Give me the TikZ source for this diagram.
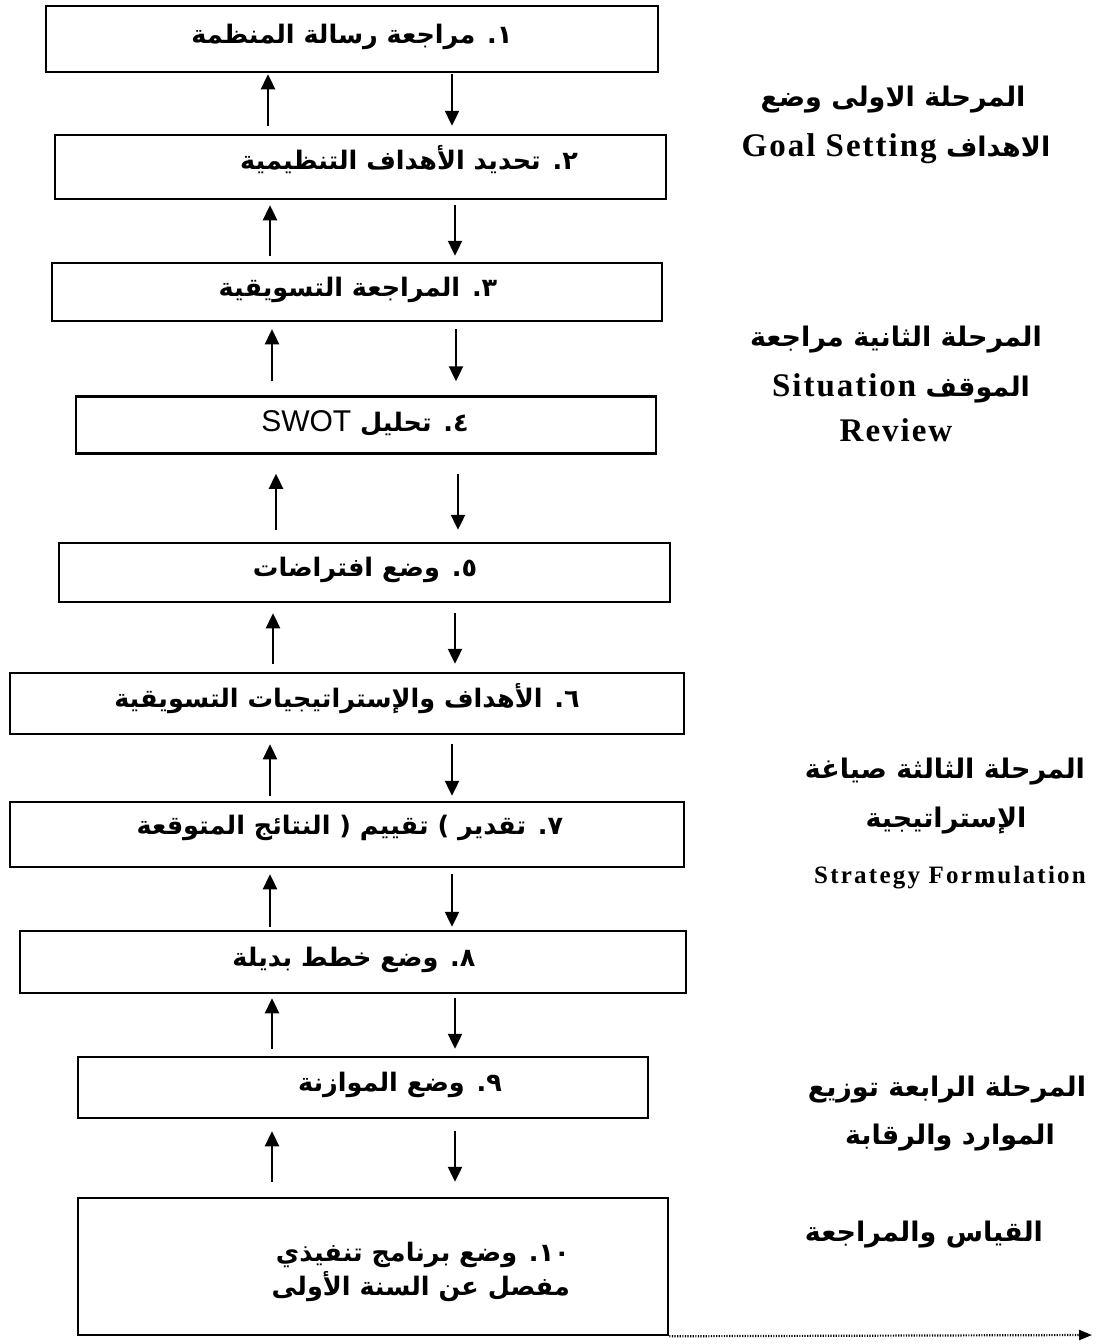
\documentclass[tikz,border=0pt]{standalone}
\usepackage{fontspec}
\setmainfont{Liberation Serif}
\newfontfamily\arabicfont[Script=Arabic]{DejaVu Sans}
\newfontfamily\swotfont{Liberation Sans}
\newfontfamily\engA[LetterSpace=6]{Liberation Serif}
\newfontfamily\engB[LetterSpace=9]{Liberation Serif}
\TeXXeTstate=1
\usetikzlibrary{arrows.meta}
\begin{document}
\begin{tikzpicture}[x=1pt,y=-1pt,
  box/.style={draw, line width=2.5pt, inner sep=0pt},
  boxtext/.style={font=\arabicfont\bfseries\fontsize{25.5}{30}\selectfont, inner sep=0pt},
  phase/.style={font=\arabicfont\bfseries\fontsize{27}{32}\selectfont, inner sep=0pt},
  eng/.style={font=\engA\bfseries\fontsize{33}{38}\selectfont, inner sep=0pt},
  engsmall/.style={font=\engB\bfseries\fontsize{25}{30}\selectfont, inner sep=0pt},
  arr/.style={line width=2.4pt, -{Triangle[length=15pt,width=14pt]}},
  dotarr/.style={line width=2.2pt, dash pattern=on 1.2pt off 1.4pt, -{Triangle[length=13pt,width=10pt]}},
]
\useasboundingbox (0,0) rectangle (1099,1344);

% boxes
\node[box, minimum width=612pt, minimum height=66pt]  (b1)  at (352,39) {};
\node[box, minimum width=611pt, minimum height=64pt]  (b2)  at (360.5,167) {};
\node[box, minimum width=610pt, minimum height=58pt]  (b3)  at (357,292) {};
\node[box, minimum width=580pt, minimum height=57pt]  (b4)  at (366,425) {};
\node[box, minimum width=611pt, minimum height=59pt]  (b5)  at (364.5,572.5) {};
\node[box, minimum width=674pt, minimum height=61pt]  (b6)  at (347,703.5) {};
\node[box, minimum width=674pt, minimum height=65pt]  (b7)  at (347,834.5) {};
\node[box, minimum width=666pt, minimum height=62pt]  (b8)  at (353,962) {};
\node[box, minimum width=570pt, minimum height=61pt]  (b9)  at (363,1087.5) {};
\node[box, minimum width=590pt, minimum height=137pt] (b10) at (373,1266.5) {};

% box texts
\node[boxtext] (t1) at (352,37) {\beginR ١\kern0pt. مراجعة رسالة المنظمة\endR};
\node[boxtext] (t2) at (409,160) {\beginR ٢\kern0pt. تحديد الأهداف التنظيمية\endR};
\node[boxtext] (t3) at (358,290) {\beginR ٣\kern0pt. المراجعة التسويقية\endR};
\node[boxtext] (t4) at (365,423) {\beginR ٤\kern0pt. تحليل {\swotfont\mdseries\fontsize{30}{34}\selectfont SWOT}\endR};
\node[boxtext] (t5) at (365,570) {\beginR ٥\kern0pt. وضع افتراضات\endR};
\node[boxtext] (t6) at (347,699) {\beginR ٦\kern0pt. الأهداف والإستراتيجيات التسويقية\endR};
\node[boxtext] (t7) at (350,828) {\beginR ٧\kern0pt. تقدير ) تقييم ( النتائج المتوقعة\endR};
\node[boxtext] (t8) at (354,960) {\beginR ٨\kern0pt. وضع خطط بديلة\endR};
\node[boxtext] (t9) at (400,1085) {\beginR ٩\kern0pt. وضع الموازنة\endR};
\node[boxtext, anchor=east] (t10a) at (570,1255) {\beginR ١٠\kern0pt. وضع برنامج تنفيذي\endR};
\node[boxtext, anchor=east] (t10b) at (570,1287) {\beginR مفصل عن السنة الأولى\endR};

% phase labels
\node[phase] (p1a) at (893,100) {\beginR المرحلة الاولى وضع\endR};
\node[phase] (p1b) at (896,149) {\beginR الاهداف {\engA\bfseries\fontsize{33}{38}\selectfont\beginL Goal Setting\endL}\endR};
\node[phase] (p2a) at (896,340) {\beginR المرحلة الثانية مراجعة\endR};
\node[phase] (p2b) at (901,388) {\beginR الموقف {\engA\bfseries\fontsize{33}{38}\selectfont Situation}\endR};
\node[eng]   (p2c) at (896,430) {Review};
\node[phase] (p3a) at (945,772) {\beginR المرحلة الثالثة صياغة\endR};
\node[phase] (p3b) at (946,821) {\beginR الإستراتيجية\endR};
\node[engsmall] (p3c) at (950,878) {Strategy Formulation};
\node[phase] (p4a) at (947,1090) {\beginR المرحلة الرابعة توزيع\endR};
\node[phase] (p4b) at (950,1138) {\beginR الموارد والرقابة\endR};
\node[phase] (p5)  at (924,1235) {\beginR القياس والمراجعة\endR};

% arrow columns
\coordinate (u1) at (268,0); \coordinate (d1) at (452,0);
\coordinate (u2) at (270,0); \coordinate (d2) at (455,0);
\coordinate (u3) at (272,0); \coordinate (d3) at (456,0);
\coordinate (u4) at (276,0); \coordinate (d4) at (458,0);
\coordinate (u5) at (273,0); \coordinate (d5) at (455,0);
\coordinate (u6) at (270,0); \coordinate (d6) at (452,0);
\coordinate (u7) at (270,0); \coordinate (d7) at (452,0);
\coordinate (u8) at (272,0); \coordinate (d8) at (455,0);
\coordinate (u9) at (272,0); \coordinate (d9) at (455,0);

% up arrows (lower box -> upper box) and down arrows (upper box -> lower box)
\draw[arr, shorten <=8pt,  shorten >=1pt]  (b2.north -| u1) -- (b1.south -| u1);
\draw[arr, shorten <=1pt,  shorten >=8pt]  (b1.south -| d1) -- (b2.north -| d1);
\draw[arr, shorten <=6pt,  shorten >=5pt]  (b3.north -| u2) -- (b2.south -| u2);
\draw[arr, shorten <=5pt,  shorten >=6pt]  (b2.south -| d2) -- (b3.north -| d2);
\draw[arr, shorten <=14pt, shorten >=7pt]  (b4.north -| u3) -- (b3.south -| u3);
\draw[arr, shorten <=7pt,  shorten >=14pt] (b3.south -| d3) -- (b4.north -| d3);
\draw[arr, shorten <=12pt, shorten >=19pt] (b5.north -| u4) -- (b4.south -| u4);
\draw[arr, shorten <=19pt, shorten >=12pt] (b4.south -| d4) -- (b5.north -| d4);
\draw[arr, shorten <=8pt,  shorten >=10pt] (b6.north -| u5) -- (b5.south -| u5);
\draw[arr, shorten <=10pt, shorten >=8pt]  (b5.south -| d5) -- (b6.north -| d5);
\draw[arr, shorten <=5pt,  shorten >=9pt]  (b7.north -| u6) -- (b6.south -| u6);
\draw[arr, shorten <=9pt,  shorten >=5pt]  (b6.south -| d6) -- (b7.north -| d6);
\draw[arr, shorten <=3pt,  shorten >=6pt]  (b8.north -| u7) -- (b7.south -| u7);
\draw[arr, shorten <=6pt,  shorten >=3pt]  (b7.south -| d7) -- (b8.north -| d7);
\draw[arr, shorten <=7pt,  shorten >=4pt]  (b9.north -| u8) -- (b8.south -| u8);
\draw[arr, shorten <=4pt,  shorten >=7pt]  (b8.south -| d8) -- (b9.north -| d8);
\draw[arr, shorten <=15pt, shorten >=12pt] (b10.north -| u9) -- (b9.south -| u9);
\draw[arr, shorten <=12pt, shorten >=15pt] (b9.south -| d9) -- (b10.north -| d9);

% dotted outgoing arrow
\coordinate (out) at (1092,1335);
\draw[dotarr] (b10.south east) -- (out);
\end{tikzpicture}
\end{document}
